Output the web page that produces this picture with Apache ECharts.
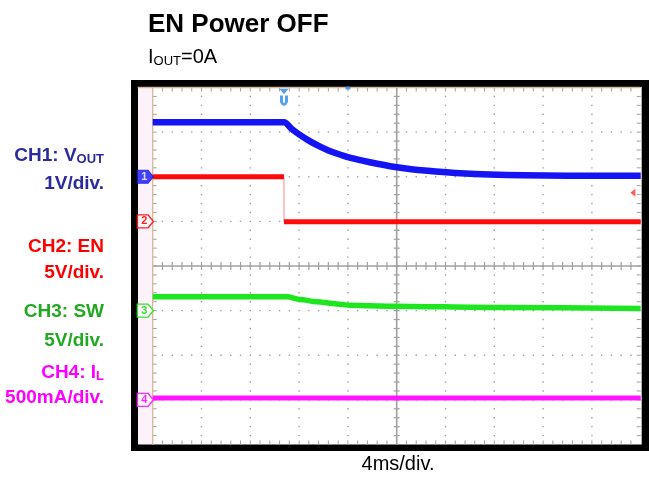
<!DOCTYPE html>
<html><head><meta charset="utf-8">
<script src="https://cdn.jsdelivr.net/npm/echarts/dist/echarts.min.js"></script>
<style>html,body{margin:0;padding:0;background:#fff}#c{width:649px;height:477px}</style>
</head><body><div id="c"></div>
<script>
// time in divisions (4 ms/div), values in screen divisions (centre = 0)
const ch1Time  = [0, 2.69, 2.85, 3.0, 3.2, 3.4, 3.6, 3.8, 4.0, 4.3, 4.6, 4.9, 5.3, 5.8, 6.3, 6.9, 7.6, 8.5, 10];
const ch1Value = [3.22, 3.22, 3.07, 2.95, 2.81, 2.69, 2.59, 2.51, 2.44, 2.36, 2.29, 2.23, 2.17, 2.12, 2.08, 2.05, 2.035, 2.025, 2.02];
const ch2Time  = [0, 2.69, 2.69, 10];
const ch2Value = [2.0, 2.0, 0.99, 0.99];
const ch3Time  = [0, 2.75, 3.02, 3.36, 3.77, 4.04, 4.45, 4.86, 7.12, 10];
const ch3Value = [-0.69, -0.69, -0.75, -0.80, -0.85, -0.88, -0.89, -0.90, -0.93, -0.95];
const ch4Time  = [0, 10];
const ch4Value = [-2.96, -2.96];
const groundLevels = [2, 1, -1, -3];
const channelNames = ['1', '2', '3', '4'];
const triggerTime = 2.69;
const triggerLevel = 1.64;

const colors = ['#1414f5', '#ff0a0a', '#1ee61e', '#ff14ff'];
const FONT = 'Liberation Sans, Arial, sans-serif';

function pairs(t, v) { return t.map((x, i) => [x, v[i]]); }

function renderGrat(params, api) {
  const ch = [];
  const g = '#a0a0a0';
  const c = (x, y) => api.coord([x, y]);
  const dot = (x, y) => { const p = c(x, y); ch.push({type: 'rect', shape: {x: p[0] - 0.7, y: p[1] - 0.7, width: 1.4, height: 1.4}, style: {fill: g}}); };
  const seg = (x1, y1, x2, y2, w, col) => ch.push({type: 'line', shape: {x1, y1, x2, y2}, style: {stroke: col || g, lineWidth: w || 1}});
  for (let i = 1; i < 10; i++) { if (i === 5) continue; for (let k = 1; k < 40; k++) dot(i, -4 + k * 0.2); }
  for (let j = -3; j <= 3; j++) { if (j === 0) continue; for (let k = 1; k < 50; k++) { if (k % 5 === 0) continue; dot(k * 0.2, j); } }
  const a = c(0, 0), b = c(10, 0), u = c(5, 4), d = c(5, -4);
  seg(a[0], a[1], b[0], b[1], 1.6);
  seg(u[0], u[1], d[0], d[1], 1.6);
  for (let k = 1; k < 50; k++) { const p = c(k * 0.2, 0); seg(p[0], p[1] - 4, p[0], p[1] + 4, 1.2); }
  for (let k = 1; k < 40; k++) { const p = c(5, -4 + k * 0.2); seg(p[0] - 3, p[1], p[0] + 3, p[1], 1.2); }
  const tl = c(0, 4), br = c(10, -4);
  for (let k = 1; k < 50; k++) { const p = c(k * 0.2, 0); seg(p[0], tl[1], p[0], tl[1] + 4, 1); seg(p[0], br[1] - 4, p[0], br[1], 1); }
  for (let k = 1; k < 40; k++) { const p = c(0, -4 + k * 0.2); seg(tl[0], p[1], tl[0] + 4, p[1], 1); seg(br[0] - 4, p[1], br[0], p[1], 1); }
  seg(tl[0], tl[1], tl[0], br[1], 1.3, '#d8b898');
  seg(tl[0] - 15, tl[1], br[0], tl[1], 1.3, '#d8b898');
  return {type: 'group', children: ch};
}

const markerPath = 'path://M0,0 L10,0 L15,6 L10,12 L0,12 Z';
const trigPath = 'path://M0,0 L9,0 L4.5,5 Z M0.5,6 L3.5,6 L3.5,12 Q4.5,14 5.5,12 L5.5,6 L8.5,6 L8.5,12 Q4.5,19 0.5,12 Z';

const lineBase = {type: 'line', showSymbol: false, symbol: 'none', animation: false, z: 5};
const lab = (text, top, color, extra) => Object.assign({text, right: 540, top,
  textStyle: {fontFamily: FONT, fontWeight: 'bold', fontSize: 19, color, lineHeight: 21,
    rich: {s: {fontFamily: FONT, fontWeight: 'bold', fontSize: 13, color, lineHeight: 13, verticalAlign: 'bottom'}}}}, extra || {});

const option = {
  animation: false,
  backgroundColor: '#ffffff',
  title: [
    {text: 'EN Power OFF', left: 143, top: 7, textStyle: {fontFamily: FONT, fontWeight: 'bold', fontSize: 26, color: '#000'}},
    {text: 'I{s|OUT}=0A', left: 143, top: 41, textStyle: {fontFamily: FONT, fontWeight: 'normal', fontSize: 20, color: '#000', lineHeight: 22,
      rich: {s: {fontFamily: FONT, fontSize: 13, color: '#000', lineHeight: 13, verticalAlign: 'bottom'}}}},
    lab('CH1: V{s|OUT}', 140, '#2b2b9c'),
    lab('1V/div.', 168, '#2b2b9c'),
    lab('CH2: EN', 231, '#ff0000'),
    lab('5V/div.', 257, '#ff0000'),
    lab('CH3: SW', 296, '#22a822'),
    lab('5V/div.', 325, '#22a822'),
    lab('CH4: I{s|L}', 357, '#ff00ff'),
    lab('500mA/div.', 382, '#ff00ff'),
    {text: '4ms/div.', left: 393, textAlign: 'center', top: 449, textStyle: {fontFamily: FONT, fontWeight: 'normal', fontSize: 20, color: '#000'}}
  ],
  graphic: [
    {type: 'rect', z: -10, silent: true, shape: {x: 131, y: 80, width: 518, height: 371}, style: {fill: '#000'}},
    {type: 'rect', z: -9, silent: true, shape: {x: 138, y: 87, width: 15, height: 357.5}, style: {fill: '#fdf1fa'}},
    {type: 'rect', z: -9, silent: true, shape: {x: 152.7, y: 87, width: 489, height: 357.5}, style: {fill: '#fff'}}
  ],
  grid: {left: 152.7, top: 87.5, width: 488, height: 357, containLabel: false},
  xAxis: {type: 'value', min: 0, max: 10, interval: 1, axisLine: {show: false}, axisTick: {show: false}, axisLabel: {show: false}, splitLine: {show: false}},
  yAxis: {type: 'value', min: -4, max: 4, interval: 1, axisLine: {show: false}, axisTick: {show: false}, axisLabel: {show: false}, splitLine: {show: false}},
  series: [
    {type: 'custom', renderItem: renderGrat, data: [[0, 0]], clip: false, z: 1, silent: true},
    Object.assign({}, lineBase, {name: 'CH4', data: pairs(ch4Time, ch4Value), lineStyle: {color: colors[3], width: 5}}),
    Object.assign({}, lineBase, {name: 'CH3', data: pairs(ch3Time, ch3Value), smooth: 0.3, smoothMonotone: 'x', lineStyle: {color: colors[2], width: 5.5}}),
    Object.assign({}, lineBase, {name: 'CH2 edge', data: pairs(ch2Time, ch2Value), lineStyle: {color: '#ff8a8a', width: 1}}),
    Object.assign({}, lineBase, {name: 'CH2', data: [[ch2Time[0], ch2Value[0]], [ch2Time[1], ch2Value[1]], [ch2Time[1], null], [ch2Time[2], ch2Value[2]], [ch2Time[3], ch2Value[3]]], lineStyle: {color: colors[1], width: 5}}),
    Object.assign({}, lineBase, {name: 'CH1', data: pairs(ch1Time, ch1Value), smooth: 0.25, lineStyle: {color: colors[0], width: 6.5, join: 'round'}}),
    {type: 'scatter', clip: false, z: 6, silent: true, animation: false,
      data: groundLevels.map((v, i) => ({
        value: [-0.15, v],
        symbol: markerPath, symbolSize: [16, 13],
        itemStyle: i === 0 ? {color: colors[0], borderColor: colors[0], borderWidth: 1} : {color: '#fff6fb', borderColor: colors[i], borderWidth: 1.3, opacity: 0.9},
        label: {show: true, position: 'inside', offset: [-1, 0], formatter: channelNames[i], fontFamily: FONT, fontSize: 11, fontWeight: 'bold', color: i === 0 ? '#fff' : colors[i]}
      }))},
    {type: 'scatter', clip: false, z: 6, silent: true, animation: false,
      data: [
        {value: [triggerTime, 3.78], symbol: trigPath, symbolSize: [9, 17], itemStyle: {color: '#2d86e6'}},
        {value: [9.84, triggerLevel], symbol: 'triangle', symbolRotate: 90, symbolSize: [8, 5], itemStyle: {color: '#ff3030'}},
        {value: [4.0, 3.99], symbol: 'rect', symbolSize: [5, 3], itemStyle: {color: '#2d86e6'}}
      ]}
  ]
};
const chart = echarts.init(document.getElementById('c'), null, {renderer: 'canvas'});
chart.setOption(option);
</script></body></html>
